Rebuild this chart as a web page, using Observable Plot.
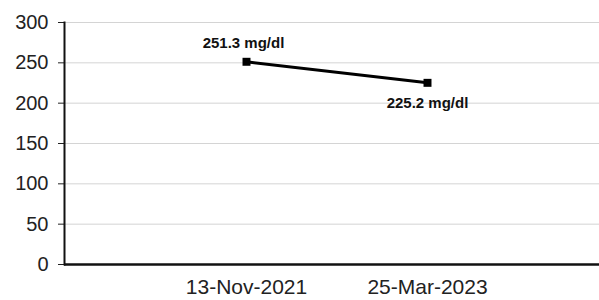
<!DOCTYPE html>
<html>
<head>
<meta charset="utf-8">
<script src="https://cdn.jsdelivr.net/npm/d3@7"></script>
<script src="https://cdn.jsdelivr.net/npm/@observablehq/plot@0.6"></script>
<style>
  html, body { margin: 0; padding: 0; background: #fff; }
</style>
</head>
<body>
<div id="chart"></div>
<script>
const dates = ["13-Nov-2021", "25-Mar-2023"];
const values = [251.3, 225.2];
const valueLabels = ["251.3 mg/dl", "225.2 mg/dl"];
const yTicks = [0, 50, 100, 150, 200, 250, 300];

const data = dates.map((d, i) => ({date: d, value: values[i], label: valueLabels[i], i}));

const chart = Plot.plot({
  width: 599,
  height: 300,
  marginLeft: 64,
  marginRight: 0,
  marginTop: 22,
  marginBottom: 36,
  style: {fontFamily: "'Liberation Sans', Arial, sans-serif", background: "#fff", color: "#222"},
  x: {type: "point", domain: dates, padding: 1, insetRight: -9, label: null},
  y: {domain: [0, 300], label: null},
  marks: [
    Plot.gridY(yTicks, {stroke: "#d4d4d4", strokeOpacity: 1, strokeWidth: 1}),
    Plot.axisY(yTicks, {tickSize: 6, tickPadding: 10, fontSize: 20, stroke: "#222", fill: "#222", label: null}),
    Plot.axisX({tickSize: 0, tickPadding: 15, fontSize: 21, fill: "#222", label: null}),
    Plot.frame({anchor: "left", stroke: "#111", strokeWidth: 2}),
    Plot.ruleY([0], {stroke: "#111", strokeWidth: 2.5}),
    Plot.line(data, {x: "date", y: "value", stroke: "#000", strokeWidth: 3}),
    Plot.dot(data, {x: "date", y: "value", symbol: "square", r: 4.5, fill: "#000", stroke: "none"}),
    Plot.text(data.filter(d => d.i === 0), {x: "date", y: "value", text: "label", dy: -19, dx: -3, fontSize: 15, fontWeight: "bold", fill: "#111"}),
    Plot.text(data.filter(d => d.i === 1), {x: "date", y: "value", text: "label", dy: 20, fontSize: 15, fontWeight: "bold", fill: "#111"})
  ]
});
document.getElementById("chart").appendChild(chart);
</script>
</body>
</html>
